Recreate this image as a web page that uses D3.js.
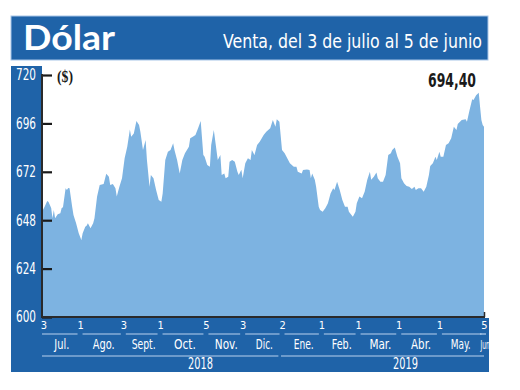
<!DOCTYPE html>
<html>
<head>
<meta charset="utf-8">
<script src="https://cdn.jsdelivr.net/npm/d3@7/dist/d3.min.js"></script>
<style>
  html, body { margin: 0; padding: 0; background: #ffffff; }
  svg { display: block; }
  .narrow { font-family: "DejaVu Sans", sans-serif; font-stretch: condensed; }
</style>
</head>
<body>
<svg id="chart" width="520" height="390"></svg>
<script>
// ---------------- DATA ----------------
const titleText = "Dólar";
const subtitleText = "Venta, del 3 de julio al 5 de junio";
const unitText = "($)";
const lastValueText = "694,40";

const startDate = "2018-07-03";
// days since start date for each observation
const dayOffsets = [0,2,4,5,7,8,9,10,12,14,15,16,18,19,20,21,23,24,26,28,30,31,33,34,35,37,39,40,42,44,47,49,51,52,54,56,57,59,61,63,65,67,68,70,72,74,75,77,79,80,82,83,85,87,89,91,92,94,96,98,100,101,103,105,107,109,112,113,115,117,119,121,123,124,126,128,129,131,133,134,136,137,139,140,142,143,145,147,149,150,152,153,155,157,159,160,162,164,166,169,171,174,176,178,179,181,183,185,187,189,192,194,195,198,199,202,204,205,206,208,209,211,212,214,216,218,220,222,223,225,227,229,231,233,234,237,239,240,242,244,246,248,250,251,253,255,256,258,260,262,264,266,267,269,271,273,274,276,278,280,282,284,285,287,289,291,293,295,296,298,300,301,303,304,306,308,310,312,314,316,317,320,323,324,326,328,329,331,333,334,335,336,337];
const values = [652.2,654.7,657.5,657,654,649,653,649,651,651.4,654,654.4,663.8,663,664,663.8,654.7,650.6,646.5,641.5,638.2,641.5,644.8,645.3,646.5,644,646.5,649,659.7,665.5,666,671,669.6,665.5,666,663.8,659.7,664.6,668.8,678.7,684.4,693,689.4,691,697.2,695.2,691.9,682.8,687.8,677.8,664.6,670.4,668.8,663,658,657.2,661.3,677.8,682,682.8,686.1,682.8,677.8,671.2,677.8,681.2,684.4,688.6,689.4,690.2,693.6,697.2,680.3,679.5,675.4,674.5,685.3,692.7,682.8,677.8,680.3,670.4,671.2,668.8,669.6,677,677.8,677,672,670.4,673,668.8,676.2,678.7,677.8,682.8,680.3,685.3,686.9,690.2,691.9,693.6,697.7,694.4,698,696.8,682.8,681.2,678.7,676.2,674.5,674.5,672,671.2,672.9,673.2,672.9,668.8,671.2,668,664.6,654.7,653,652.2,653.9,656.4,661.3,663.8,663,667.1,663,658,654.7,654.7,652.2,649.7,652.2,656.4,659.7,658.9,662.1,668,672,668,669.6,671.6,668.8,667.1,667.1,670.4,680.3,681.2,682.8,684.1,679.5,676.2,668.8,666.3,665,664.6,663.5,664.6,663,663.8,663.8,662.1,664.6,670.4,674.9,676.2,679.5,677.8,682,679.5,679.5,685.3,686.1,688.6,694.4,692.7,695.7,697.7,698,696.8,702.6,708,707.6,710,711.2,704.3,697.7,695.2,694.4];

const yTicks = [600, 624, 648, 672, 696, 720];
const tickDates = ["2018-07-03","2018-08-01","2018-09-03","2018-10-01","2018-11-05","2018-12-03","2019-01-02","2019-02-01","2019-03-01","2019-04-01","2019-05-02","2019-06-05"];
const tickLabels = ["3","1","3","1","5","3","2","1","1","1","1","5"];
const monthLabels = ["Jul.","Ago.","Sept.","Oct.","Nov.","Dic.","Ene.","Feb.","Mar.","Abr.","May.","Jun."];
const yearLabels = ["2018","2019"];
const yearStarts = ["2018-07-03","2019-01-02"];
const yearEnds = ["2018-12-31","2019-06-05"];

// ---------------- STYLE / LAYOUT ----------------
const BLUE = "#1f63a8";
const AREA = "#7db3e1";
const LINE_LIGHT = "#b9d2ee";
const parse = d3.timeParse("%Y-%m-%d");
const t0 = parse(startDate);
const data = dayOffsets.map((d, i) => ({ date: d3.timeDay.offset(t0, d), value: values[i] }));

const svg = d3.select("#chart");
const plot = { left: 42, right: 484, top: 75, bottom: 317 };

const x = d3.scaleTime()
  .domain([parse(tickDates[0]), parse(tickDates[tickDates.length - 1])])
  .range([plot.left, plot.right]);
const y = d3.scaleLinear().domain([600, 720]).range([plot.bottom, plot.top]);

// helper: squeeze text horizontally to a target width (condensed look)
function fit(sel, w) {
  sel.attr("textLength", w).attr("lengthAdjust", "spacingAndGlyphs");
}

// Title bar
svg.append("rect").attr("x", 11).attr("y", 16).attr("width", 477).attr("height", 44)
  .attr("fill", BLUE).attr("stroke", "#a8c6e8").attr("stroke-width", 1);
svg.append("text").attr("x", 23).attr("y", 50)
  .attr("fill", "#ffffff").attr("font-family", "Lato, 'Open Sans', sans-serif")
  .attr("font-weight", "bold").attr("font-size", 35)
  .text(titleText).call(fit, 92);
svg.append("text").attr("class", "narrow").attr("x", 482).attr("y", 48)
  .attr("text-anchor", "end")
  .attr("fill", "#ffffff").attr("font-size", 20)
  .text(subtitleText).call(fit, 259);

// Left band and bottom band
svg.append("rect").attr("x", 11).attr("y", 66).attr("width", plot.left - 11).attr("height", 306)
  .attr("fill", BLUE);
svg.append("rect").attr("x", 11).attr("y", 318).attr("width", 478).attr("height", 54)
  .attr("fill", BLUE);

// Area
const area = d3.area()
  .x(d => x(d.date))
  .y0(y(600))
  .y1(d => y(d.value));
svg.append("path").datum(data).attr("d", area).attr("fill", AREA);

// Y axis
const yAxis = d3.axisRight(y).tickValues(yTicks).tickSize(10).tickFormat("");
const gy = svg.append("g").attr("transform", `translate(${plot.left},0)`).call(yAxis);
gy.select(".domain").remove();
gy.selectAll(".tick line").attr("stroke", "#1a1a1a").attr("stroke-width", 2.2);
svg.append("line").attr("x1", plot.left).attr("x2", plot.left)
  .attr("y1", plot.top - 1).attr("y2", plot.bottom + 1)
  .attr("stroke", "#2a2a2a").attr("stroke-width", 2);
svg.append("g").selectAll("text").data(yTicks).join("text")
  .attr("class", "narrow")
  .attr("x", 16).attr("y", d => y(d)).attr("dy", "0.36em")
  .attr("fill", "#ffffff").attr("font-size", 15)
  .text(d => d).call(fit, 20);

// X baseline
svg.append("line").attr("x1", plot.left - 1).attr("x2", plot.right + 1)
  .attr("y1", plot.bottom).attr("y2", plot.bottom)
  .attr("stroke", "#2a2a2a").attr("stroke-width", 2);
svg.append("line").attr("x1", plot.right + 0.5).attr("x2", plot.right + 0.5)
  .attr("y1", plot.bottom - 5).attr("y2", plot.bottom)
  .attr("stroke", "#2a2a2a").attr("stroke-width", 1.5);

// X axis: day ticks
const xAxis = d3.axisBottom(x).tickValues(tickDates.map(parse))
  .tickSize(0).tickFormat((d, i) => tickLabels[i]);
const gx = svg.append("g").attr("transform", `translate(0,${plot.bottom + 1})`).call(xAxis);
gx.select(".domain").remove();
gx.selectAll(".tick text").attr("class", "narrow").attr("fill", "#ffffff")
  .attr("font-size", 11).attr("dy", "0.72em")
  .attr("x", (d, i) => i === 0 ? 1.5 : 0);

// Month segments and labels
const tx = tickDates.map(d => x(parse(d)));
const segs = monthLabels.map((m, i) => {
  let a, b;
  if (i === monthLabels.length - 1) { a = tx[i] - 4; b = tx[i] + 2; }
  else { a = i === 0 ? tx[0] : tx[i] + 2.5; b = tx[i + 1] - 2.5; }
  return { label: m, a, b };
});
svg.append("g").selectAll("line").data(segs).join("line")
  .attr("x1", d => d.a).attr("x2", d => d.b).attr("y1", 334).attr("y2", 334)
  .attr("stroke", LINE_LIGHT).attr("stroke-width", 1.2);
const monthWidths = [15, 22, 24, 22, 23, 17, 20, 20, 22, 20, 20, 11];
const monthShift = [2, 2, 2, 2, 2, 2, 2, 2, 2, 2, -1, 3];
svg.append("g").selectAll("text").data(segs).join("text")
  .attr("class", "narrow")
  .attr("x", (d, i) => (d.a + d.b) / 2 + monthShift[i] - monthWidths[i] / 2)
  .attr("y", 349).attr("fill", "#ffffff")
  .attr("font-size", (d, i) => i === segs.length - 1 ? 12 : 14)
  .text(d => d.label)
  .each(function(d, i) { d3.select(this).call(fit, monthWidths[i]); });

// Year lines and labels
const ySegs = yearLabels.map((l, i) => ({ label: l, a: x(parse(yearStarts[i])) - (i ? 1 : 0), b: x(parse(yearEnds[i])) - (i ? 0 : 1) }));
svg.append("g").selectAll("line").data(ySegs).join("line")
  .attr("x1", d => d.a).attr("x2", d => d.b).attr("y1", 356).attr("y2", 356)
  .attr("stroke", LINE_LIGHT).attr("stroke-width", 1.2);
const yearLabelX = [188, 393];
svg.append("g").selectAll("text").data(ySegs).join("text")
  .attr("class", "narrow")
  .attr("x", (d, i) => yearLabelX[i]).attr("y", 369)
  .attr("fill", "#ffffff").attr("font-size", 15)
  .text(d => d.label).call(fit, 25);

// Unit and last value
svg.append("text").attr("x", 57).attr("y", 82)
  .attr("font-family", "'Liberation Serif', serif").attr("font-weight", "bold")
  .attr("font-size", 16).attr("fill", "#1a1a1a").text(unitText).call(fit, 16);
svg.append("text").attr("class", "narrow").attr("x", 428).attr("y", 87)
  .attr("font-weight", "bold")
  .attr("font-size", 20).attr("fill", "#1a1a1a").text(lastValueText).call(fit, 48);
</script>
</body>
</html>
